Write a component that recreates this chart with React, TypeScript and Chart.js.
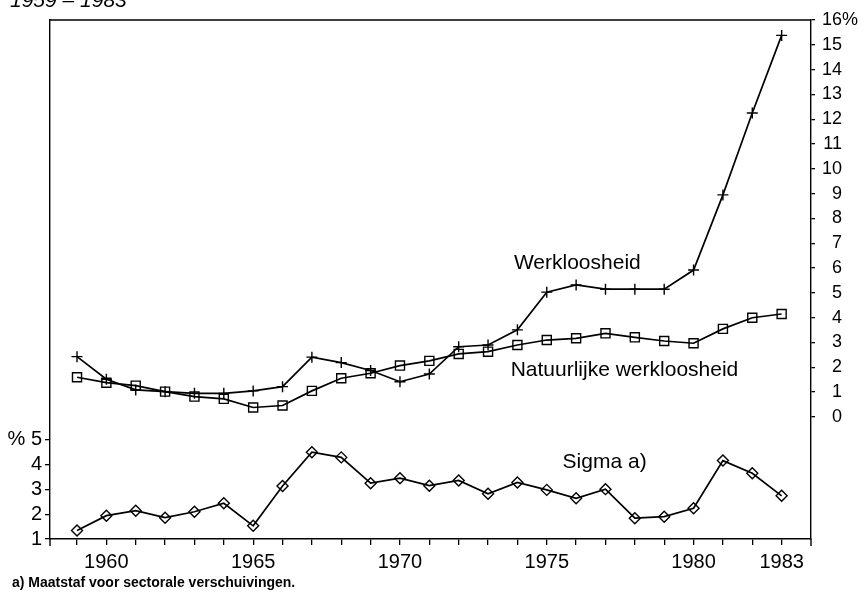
import React, { useEffect, useRef } from 'react';
import { Chart, registerables } from 'chart.js';

Chart.register(...registerables);

const years = [1959, 1960, 1961, 1962, 1963, 1964, 1965, 1966, 1967, 1968, 1969, 1970, 1971, 1972, 1973, 1974, 1975, 1976, 1977, 1978, 1979, 1980, 1981, 1982, 1983];
const werkloosheid = [2.43, 1.52, 1.09, 1.02, 0.95, 0.95, 1.05, 1.22, 2.41, 2.19, 1.87, 1.42, 1.73, 2.83, 2.9, 3.51, 5.03, 5.32, 5.15, 5.15, 5.15, 5.92, 8.95, 12.25, 15.38];
const natuurlijke = [1.6, 1.38, 1.26, 1.02, 0.82, 0.73, 0.38, 0.46, 1.05, 1.56, 1.76, 2.07, 2.26, 2.54, 2.63, 2.9, 3.1, 3.17, 3.37, 3.21, 3.06, 2.97, 3.55, 4.0, 4.15];
const sigma = [1.34, 1.94, 2.14, 1.86, 2.1, 2.44, 1.53, 3.14, 4.5, 4.29, 3.25, 3.45, 3.15, 3.36, 2.82, 3.28, 2.98, 2.64, 3.01, 1.84, 1.9, 2.24, 4.16, 3.65, 2.74];
const rightTicks = [0, 1, 2, 3, 4, 5, 6, 7, 8, 9, 10, 11, 12, 13, 14, 15, 16];
const leftTicks = [1, 2, 3, 4, 5];
const yearLabels = [1960, 1965, 1970, 1975, 1980, 1983];
const titleText = '1959 – 1983';
const footnoteText = 'a) Maatstaf voor sectorale verschuivingen.';
const seriesNames = ['Werkloosheid', 'Natuurlijke werkloosheid', 'Sigma a)'];

const FONT = '"Liberation Sans", Arial, Helvetica, sans-serif';

const labelSpots = [
  { text: seriesNames[0], x: 1973.88, y: 6.21, axis: 'y' },
  { text: seriesNames[1], x: 1973.77, y: 1.9, axis: 'y' },
  { text: seriesNames[2], x: 1975.54, y: 4.11, axis: 'y1' },
];

const decorPlugin = {
  id: 'decor',
  afterDraw(chart: any) {
    const { ctx, chartArea } = chart;
    const yS = chart.scales.y;
    ctx.save();
    ctx.strokeStyle = '#000';
    ctx.lineWidth = 1.4;
    ctx.beginPath();
    ctx.moveTo(chartArea.left, chartArea.top);
    ctx.lineTo(chartArea.right, chartArea.top);
    ctx.moveTo(chartArea.left, chartArea.bottom);
    ctx.lineTo(chartArea.left, chartArea.bottom + 7);
    ctx.moveTo(chartArea.right, chartArea.bottom);
    ctx.lineTo(chartArea.right, chartArea.bottom + 7);
    ctx.stroke();

    ctx.fillStyle = '#000';
    ctx.font = `18px ${FONT}`;
    ctx.textBaseline = 'middle';
    rightTicks.forEach((v) => {
      const py = yS.getPixelForValue(v);
      ctx.textAlign = 'right';
      ctx.fillText(String(v), 842, py);
      if (v === 16) {
        ctx.textAlign = 'left';
        ctx.fillText('%', 842, py);
      }
    });

    ctx.font = `21px ${FONT}`;
    ctx.textAlign = 'left';
    labelSpots.forEach((s) => {
      const px = chart.scales.x.getPixelForValue(s.x);
      const py = chart.scales[s.axis].getPixelForValue(s.y);
      ctx.fillText(s.text, px, py);
    });

    ctx.font = `italic 21px ${FONT}`;
    ctx.textBaseline = 'alphabetic';
    ctx.fillText(titleText, 10, 7);

    ctx.font = `bold 14px ${FONT}`;
    ctx.textBaseline = 'middle';
    ctx.fillText(footnoteText, 12, 583);
    ctx.restore();
  },
};

export default function App() {
  const ref = useRef<HTMLCanvasElement | null>(null);
  useEffect(() => {
    document.body.style.margin = '0';
    const canvas = ref.current!;
    const pts = (arr: number[]) => years.map((yr, i) => ({ x: yr, y: arr[i] }));
    const lineDs = (label: string, data: number[], style: string, radius: number, axis: string) => ({
      label,
      data: pts(data),
      yAxisID: axis,
      borderColor: '#000',
      borderWidth: 1.7,
      pointStyle: style,
      pointRadius: radius,
      pointBorderColor: '#000',
      pointBackgroundColor: 'rgba(0,0,0,0)',
      pointBorderWidth: 1.4,
      tension: 0,
      fill: false,
      clip: false as any,
    });
    const chart = new Chart(canvas, {
      type: 'line',
      data: {
        datasets: [
          lineDs(seriesNames[0], werkloosheid, 'cross', 5.5, 'y'),
          lineDs(seriesNames[1], natuurlijke, 'rect', 6.4, 'y'),
          lineDs(seriesNames[2], sigma, 'rectRot', 5.5, 'y1'),
        ] as any,
      },
      options: {
        animation: false,
        responsive: false,
        devicePixelRatio: 1,
        layout: { padding: { top: 20, left: 0, right: 0, bottom: 0 } },
        plugins: { legend: { display: false }, tooltip: { enabled: false } },
        scales: {
          x: {
            type: 'linear',
            min: 1958.08,
            max: 1984,
            afterBuildTicks: (s: any) => {
              s.ticks = years.map((v) => ({ value: v }));
            },
            afterFit: (s: any) => {
              s.height = 54;
            },
            ticks: {
              autoSkip: false,
              maxRotation: 0,
              color: '#000',
              padding: 5,
              font: { family: FONT, size: 20 },
              callback: (v: any) => (yearLabels.includes(Number(v)) ? String(v) : ''),
            },
            grid: { drawOnChartArea: false, tickLength: 6, color: '#000', lineWidth: 1.3 },
            border: { display: true, color: '#000', width: 1.4 },
          },
          y: {
            type: 'linear',
            position: 'right',
            min: -4.92,
            max: 16,
            afterBuildTicks: (s: any) => {
              s.ticks = rightTicks.map((v) => ({ value: v }));
            },
            afterFit: (s: any) => {
              s.width = 54;
            },
            ticks: { display: false },
            grid: { drawOnChartArea: false, tickLength: 4, color: '#000', lineWidth: 1.3 },
            border: { display: true, color: '#000', width: 1.4 },
          },
          y1: {
            type: 'linear',
            position: 'left',
            min: 1,
            max: 21.92,
            afterBuildTicks: (s: any) => {
              s.ticks = leftTicks.map((v) => ({ value: v }));
            },
            afterFit: (s: any) => {
              s.width = 50;
            },
            ticks: {
              color: '#000',
              padding: 3,
              font: { family: FONT, size: 20 },
              callback: (v: any) => (Number(v) === 5 ? '% 5' : String(v)),
            },
            grid: { drawOnChartArea: false, tickLength: 5, color: '#000', lineWidth: 1.3 },
            border: { display: true, color: '#000', width: 1.4 },
          },
        },
      },
      plugins: [decorPlugin],
    });
    return () => chart.destroy();
  }, []);
  return (
    <div style={{ position: 'absolute', left: 0, top: 0, width: 865, height: 593, background: '#fff' }}>
      <canvas ref={ref} width={865} height={593} style={{ width: 865, height: 593, display: 'block' }} />
    </div>
  );
}
